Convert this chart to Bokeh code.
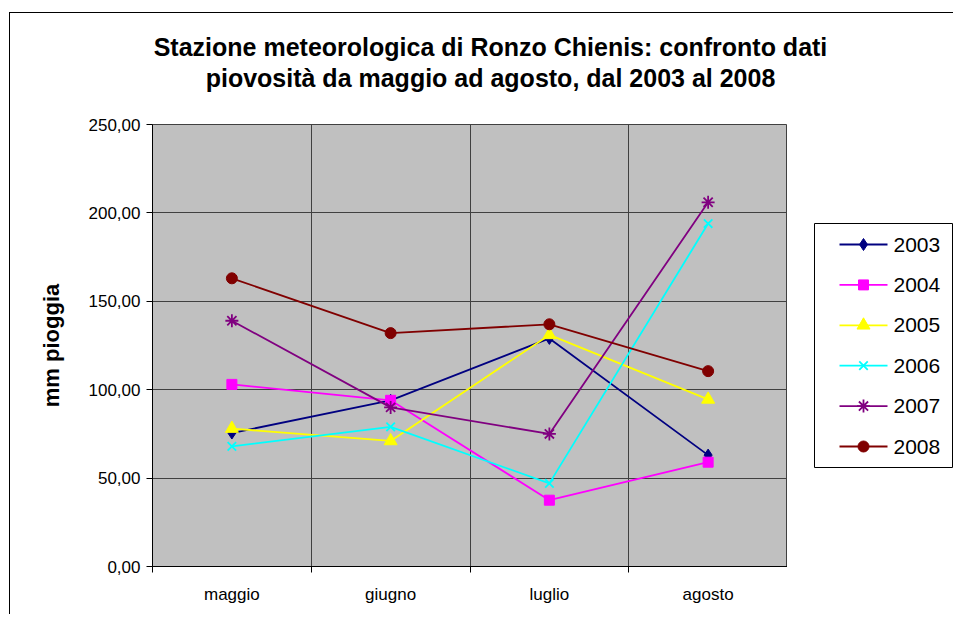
from bokeh.plotting import figure
from bokeh.layouts import row, column
from bokeh.models import FixedTicker, Range1d
from bokeh.core.properties import value
from bokeh.embed import file_html
from bokeh.resources import INLINE

months = ["maggio", "giugno", "luglio", "agosto"]
years = ["2003", "2004", "2005", "2006", "2007", "2008"]
rain_2003 = [75.5, 94.0, 129.0, 63.0]
rain_2004 = [103.0, 94.0, 37.5, 59.0]
rain_2005 = [78.0, 71.0, 131.0, 94.5]
rain_2006 = [68.0, 79.0, 47.0, 194.0]
rain_2007 = [139.0, 90.0, 75.0, 206.0]
rain_2008 = [163.0, 132.0, 137.0, 110.5]
series = [rain_2003, rain_2004, rain_2005, rain_2006, rain_2007, rain_2008]
y_ticks = [0, 50, 100, 150, 200, 250]
title_lines = ["Stazione meteorologica di Ronzo Chienis: confronto dati",
               "piovosità da maggio ad agosto, dal 2003 al 2008"]

colors = ["#000080", "#FF00FF", "#FFFF00", "#00FFFF", "#800080", "#800000"]
markers = ["diamond", "square", "triangle", "x", "asterisk", "circle"]
sizes = [12, 10, 13, 12, 13, 11]
FONT = "Liberation Sans"


def draw_markers(fig, xs, vals, c, m, s):
    if m in ("x", "asterisk"):
        fig.scatter(xs, vals, marker=m, size=s, line_color=c, line_width=1.8)
    else:
        fig.scatter(xs, vals, marker=m, size=s, fill_color=c, line_color=c)


def bare_figure(w, h):
    f = figure(frame_width=w, frame_height=h, output_backend="svg", toolbar_location=None,
               x_range=Range1d(0, w), y_range=Range1d(h, 0),
               x_axis_type=None, y_axis_type=None,
               min_border=0, outline_line_color=None,
               background_fill_color="white", border_fill_color="white")
    f.title.visible = False
    f.xgrid.visible = False
    f.ygrid.visible = False
    return f


# ---- title strip ----
TW, TH = 943, 99
t = bare_figure(TW, TH)
t.text(x=[480, 480], y=[33, 64], text=title_lines,
       text_font=value(FONT), text_font_style="bold", text_font_size="25px",
       text_color="black", text_align="center", text_baseline="middle")

# ---- main chart ----
p = figure(frame_width=635, frame_height=442, output_backend="svg", toolbar_location=None,
           x_range=Range1d(0, len(months)), y_range=Range1d(0, 250),
           min_border_left=142, min_border_right=0, min_border_top=12, min_border_bottom=48,
           background_fill_color="#C0C0C0", border_fill_color="white",
           outline_line_color="#404040", outline_line_width=1)
p.title.visible = False

xc = [i + 0.5 for i in range(len(months))]
for vals, c, m, s in zip(series, colors, markers, sizes):
    p.line(xc, vals, line_color=c, line_width=1.8)
    draw_markers(p, xc, vals, c, m, s)

p.xaxis.ticker = FixedTicker(ticks=xc, minor_ticks=list(range(len(months) + 1)))
p.xaxis.major_label_overrides = {x: mth for x, mth in zip(xc, months)}
p.xaxis.major_tick_line_color = None
p.xaxis.minor_tick_in = 0
p.xaxis.minor_tick_out = 6
p.xaxis.minor_tick_line_color = "black"
p.xaxis.axis_line_color = "black"
p.xaxis.major_label_text_font = FONT
p.xaxis.major_label_text_font_size = "17px"
p.xaxis.major_label_text_color = "black"
p.xaxis.major_label_standoff = 12

p.yaxis.ticker = FixedTicker(ticks=y_ticks, minor_ticks=[])
p.yaxis.major_label_overrides = {tk: f"{tk:.2f}".replace(".", ",") for tk in y_ticks}
p.yaxis.major_tick_in = 0
p.yaxis.major_tick_out = 6
p.yaxis.major_tick_line_color = "black"
p.yaxis.axis_line_color = "black"
p.yaxis.major_label_text_font = FONT
p.yaxis.major_label_text_font_size = "17px"
p.yaxis.major_label_text_color = "black"
p.yaxis.major_label_standoff = 6
p.yaxis.axis_label = "mm pioggia"
p.yaxis.axis_label_text_font = FONT
p.yaxis.axis_label_text_font_style = "bold"
p.yaxis.axis_label_text_font_size = "22px"
p.yaxis.axis_label_text_color = "black"
p.yaxis.axis_label_standoff = 22

p.xgrid.ticker = FixedTicker(ticks=list(range(1, len(months))))
p.xgrid.grid_line_color = "#404040"
p.ygrid.ticker = FixedTicker(ticks=y_ticks[1:])
p.ygrid.grid_line_color = "#404040"

# ---- legend panel (pixel-like coordinates, y downward; frame aligned with chart frame) ----
QW, QH = 166, 442
q = bare_figure(QW, QH)
box_l, box_r, box_t, box_b = 27, 165, 99, 343
q.quad(left=[box_l], right=[box_r], top=[box_t], bottom=[box_b],
       fill_color="white", line_color="black", line_width=1)
pitch = (box_b - box_t - 42) / (len(years) - 1)
row_y = [box_t + 21 + pitch * i for i in range(len(years))]
for yy, c, m, s in zip(row_y, colors, markers, sizes):
    q.line([box_l + 25, box_l + 73], [yy, yy], line_color=c, line_width=1.8)
    draw_markers(q, [box_l + 49], [yy], c, m, s)
q.text(x=[box_l + 79] * len(years), y=row_y, text=years,
       text_font=value(FONT), text_font_size="21px", text_color="black",
       text_align="left", text_baseline="middle")

layout = column(t, row(p, q),
                styles={"border-left": "1px solid black", "border-top": "1px solid black",
                        "margin-top": "12px", "margin-left": "9px"})

open("out.html", "w").write(file_html(layout, INLINE))
